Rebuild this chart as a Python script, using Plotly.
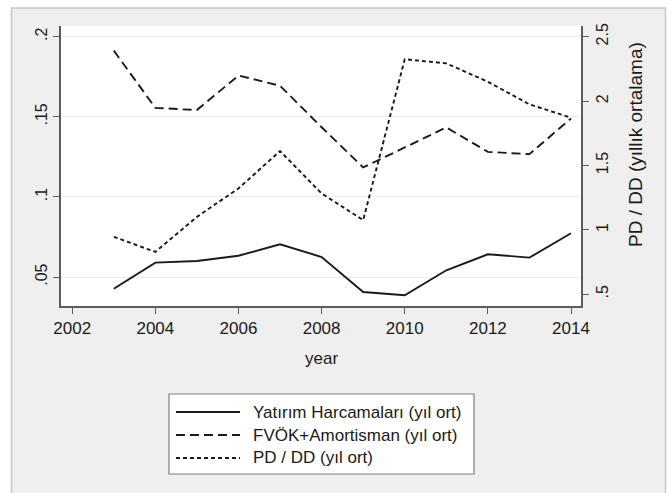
import plotly.graph_objects as go

# Yearly averages
years = [2003, 2004, 2005, 2006, 2007, 2008, 2009, 2010, 2011, 2012, 2013, 2014]
yatirim = [0.0427, 0.0590, 0.0600, 0.0633, 0.0704, 0.0625, 0.0406, 0.0386, 0.0542, 0.0642, 0.0621, 0.0773]
fvok = [0.1913, 0.1556, 0.1542, 0.1758, 0.1694, 0.1435, 0.1184, 0.1310, 0.1434, 0.1281, 0.1267, 0.1490]
pddd = [0.946, 0.829, 1.101, 1.322, 1.612, 1.283, 1.076, 2.325, 2.293, 2.150, 1.975, 1.871]

names = ["Yatırım Harcamaları (yıl ort)", "FVÖK+Amortisman (yıl ort)", "PD / DD (yıl ort)"]

x_ticks = [2002, 2004, 2006, 2008, 2010, 2012, 2014]
left_ticks = [0.05, 0.1, 0.15, 0.2]
left_labels = [".05", ".1", ".15", ".2"]
right_ticks = [0.5, 1, 1.5, 2, 2.5]
right_labels = [".5", "1", "1.5", "2", "2.5"]

W, H = 668, 493
L, R, T, B = 61, 581, 26, 306  # plot area in pixels
FONT = "Liberation Sans, Arial, sans-serif"
INK = "#1a1a1a"
AXIS = "#5c5c5c"

dash_solid = "solid"
dash_long = "9px,5px"
dash_short = "4px,3px"


def px(xp):
    return (xp - L) / (R - L)


def py(yp):
    return (B - yp) / (B - T)


fig = go.Figure()
fig.add_trace(go.Scatter(x=years, y=yatirim, mode="lines", name=names[0],
                         line=dict(color=INK, width=1.9, dash=dash_solid), showlegend=False))
fig.add_trace(go.Scatter(x=years, y=fvok, mode="lines", name=names[1],
                         line=dict(color=INK, width=1.9, dash=dash_long), showlegend=False))
fig.add_trace(go.Scatter(x=years, y=pddd, mode="lines", name=names[2], yaxis="y2",
                         line=dict(color=INK, width=1.9, dash=dash_short), showlegend=False))

shapes = [
    # outer graph region
    dict(type="rect", xref="paper", yref="paper", x0=px(11.5), x1=px(665.5), y0=py(8), y1=py(500),
         fillcolor="#efefef", line=dict(color="#c8c8c8", width=1.5), layer="below"),
    # plot region
    dict(type="rect", xref="paper", yref="paper", x0=0, x1=1, y0=0, y1=1,
         fillcolor="white", line=dict(width=0), layer="below"),
    # legend box
    dict(type="rect", xref="paper", yref="paper", x0=px(169), x1=px(474), y0=py(394), y1=py(474),
         fillcolor="white", line=dict(color="#808080", width=1.2), layer="above"),
]
annotations = []
row_y = [412, 435, 458]
for nm, dsh, yy in zip(names, [dash_solid, dash_long, dash_short], row_y):
    shapes.append(dict(type="line", xref="paper", yref="paper", x0=px(176), x1=px(240), y0=py(yy), y1=py(yy),
                       line=dict(color=INK, width=1.9, dash=dsh), layer="above"))
    annotations.append(dict(text=nm, xref="paper", yref="paper", x=px(251), y=py(yy), xanchor="left",
                            yanchor="middle", showarrow=False, font=dict(size=17, color=INK, family=FONT)))

annotations.append(dict(text="year", xref="paper", yref="paper", x=px(321), y=py(358), xanchor="center",
                        yanchor="middle", showarrow=False, font=dict(size=17, color=INK, family=FONT)))
annotations.append(dict(text="PD / DD (yıllık ortalama)", xref="paper", yref="paper", x=px(635), y=py(145),
                        xanchor="center", yanchor="middle", textangle=-90, showarrow=False,
                        font=dict(size=19, color=INK, family=FONT)))

fig.update_layout(
    width=W, height=H,
    margin=dict(l=L, r=W - R, t=T, b=H - B, autoexpand=False),
    paper_bgcolor="white", plot_bgcolor="white",
    font=dict(family=FONT, size=17, color=INK),
    xaxis=dict(range=[2001.73, 2014.24], tickvals=x_ticks, ticks="outside", ticklen=6, tickwidth=1.2,
               tickcolor=AXIS, showline=True, linecolor=AXIS, linewidth=1.5, showgrid=False,
               zeroline=False, tickfont=dict(size=17, color=INK)),
    yaxis=dict(range=[0.0319, 0.2067], tickvals=left_ticks, ticktext=left_labels, tickangle=-90,
               ticks="outside", ticklen=6, tickwidth=1.2, tickcolor=AXIS, showline=True, linecolor=AXIS,
               linewidth=1.5, showgrid=True, gridcolor="#ececec", gridwidth=1, zeroline=False,
               tickfont=dict(size=16, color=INK)),
    yaxis2=dict(range=[0.409, 2.583], tickvals=right_ticks, ticktext=right_labels, tickangle=-90,
                overlaying="y", side="right", ticks="outside", ticklen=6, tickwidth=1.2, tickcolor=AXIS,
                showline=True, linecolor=AXIS, linewidth=1.5, showgrid=False, zeroline=False,
                tickfont=dict(size=16, color=INK)),
    shapes=shapes,
    annotations=annotations,
    showlegend=False,
)

fig.write_html("out.html")
